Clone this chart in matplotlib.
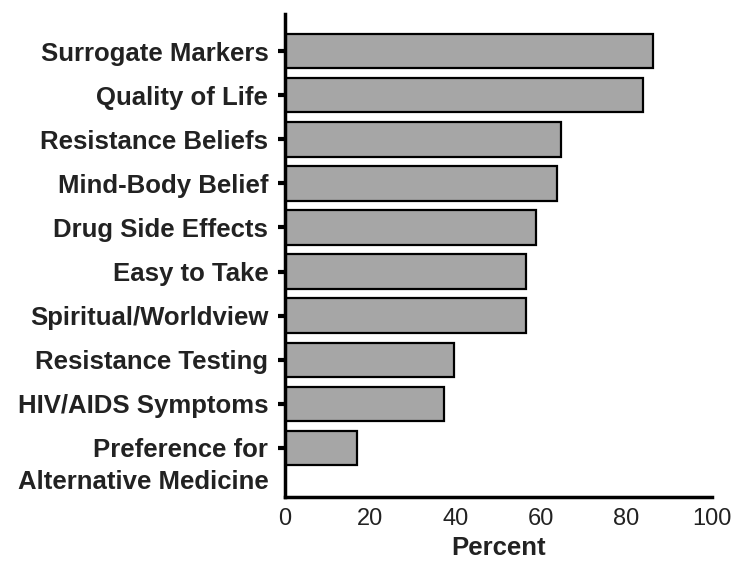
import matplotlib.pyplot as plt
import matplotlib.transforms as mtransforms

plt.rcParams['font.family'] = ['Liberation Sans', 'DejaVu Sans']

labels = ['Surrogate Markers', 'Quality of Life', 'Resistance Beliefs',
          'Mind-Body Belief', 'Drug Side Effects', 'Easy to Take',
          'Spiritual/Worldview', 'Resistance Testing', 'HIV/AIDS Symptoms',
          'Preference for\nAlternative Medicine']
percent = [86.2, 83.8, 64.6, 63.7, 58.8, 56.4, 56.4, 39.6, 37.2, 16.9]

fig = plt.figure(figsize=(7.5, 5.64), dpi=100)
ax = fig.add_axes([0.38, 0.119, 0.569, 0.856])

pos = list(range(len(labels)))
ax.barh(pos, percent, height=0.78, color='#a6a6a6', edgecolor='black', linewidth=1.6)

ax.set_xlim(0, 100)
ax.set_ylim(len(labels) - 1 + 1.11, -0.84)
ax.set_xticks([0, 20, 40, 60, 80, 100])
ax.set_yticks(pos)
ax.set_yticklabels(labels, fontsize=18.5, fontweight='bold', color='#222222')
ax.tick_params(axis='x', labelsize=17, length=0, pad=8, labelcolor='#222222')
ax.tick_params(axis='y', length=5, width=3, pad=7)

# last label: first line sits at the tick
last = ax.get_yticklabels()[-1]
last.set_verticalalignment('top')
last.set_linespacing(1.45)
last.set_transform(last.get_transform() + mtransforms.ScaledTranslation(0, 7.5 / 72, fig.dpi_scale_trans))

for s in ['top', 'right']:
    ax.spines[s].set_visible(False)
for s in ['left', 'bottom']:
    ax.spines[s].set_linewidth(2.5)

ax.set_xlabel('Percent', fontsize=18.5, fontweight='bold', labelpad=4, color='#222222')

plt.savefig('out.png', dpi=100)
